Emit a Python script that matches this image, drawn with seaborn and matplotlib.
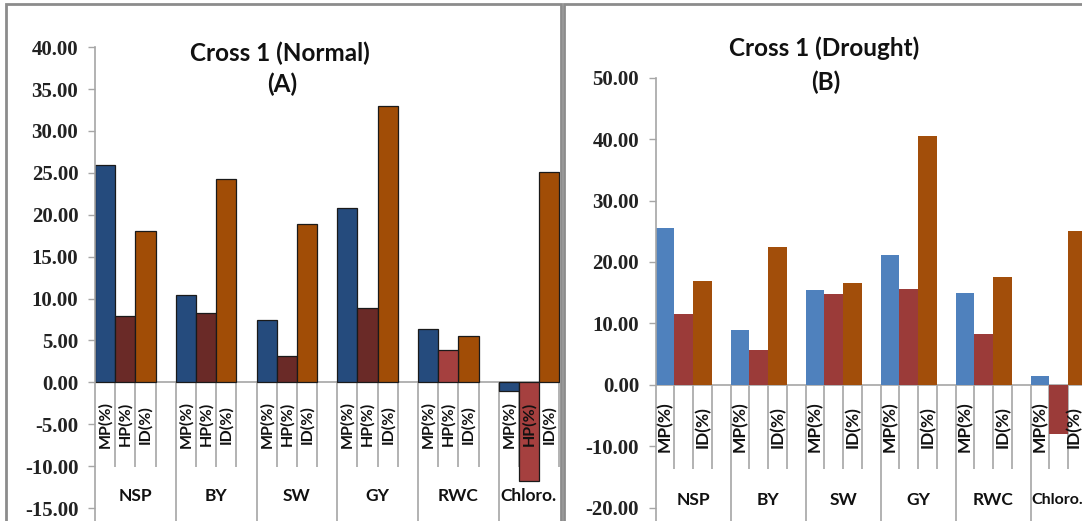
import numpy as np
import pandas as pd
import matplotlib
matplotlib.use("Agg")
import matplotlib.pyplot as plt
from matplotlib.patches import Rectangle
import seaborn as sns

# ---- data ----
traits = ['NSP', 'BY', 'SW', 'GY', 'RWC', 'Chloro.']
series = ['MP', 'HP', 'ID']

normal_mp = [25.9, 10.45, 7.43, 20.76, 6.38, -1.03]
normal_hp = [7.95, 8.27, 3.2, 8.9, 3.8, -11.8]
normal_id = [18.05, 24.3, 18.9, 32.95, 5.52, 25.15]

drought_mp = [25.5, 8.87, 15.4, 21.15, 14.95, 1.4]
drought_hp = [11.5, 5.7, 14.8, 15.55, 8.2, -8.1]
drought_id = [16.95, 22.4, 16.55, 40.5, 17.6, 25.1]

# HP bars of RWC and Chloro. are a lighter red in panel A
normal_hp_tone = ['dark', 'dark', 'dark', 'dark', 'light', 'light']

sub_labels_a = ['MP(%)', 'HP(%)', 'ID(%)']
sub_labels_b = ['MP(%)', '', 'ID(%)']


def long_table(mp, hp, id_, hp_tone=None):
    rows = []
    for i, t in enumerate(traits):
        for s, vals in zip(series, [mp, hp, id_]):
            key = s
            if s == 'HP' and hp_tone is not None and hp_tone[i] == 'light':
                key = 'HP light'
            rows.append({'slot': f'{t}|{s}', 'value': vals[i], 'key': key})
    return pd.DataFrame(rows)


# each trait gets 4 slots: MP, HP, ID and an empty one (Excel multi-level axis)
slot_order = [f'{t}|{s}' for t in traits for s in series + ['gap']]

df_a = long_table(normal_mp, normal_hp, normal_id, normal_hp_tone)
df_b = long_table(drought_mp, drought_hp, drought_id)

pal_a = {'MP': '#254B7D', 'HP': '#6A2A27', 'HP light': '#A5403F', 'ID': '#A14D06'}
pal_b = {'MP': '#4F81BD', 'HP': '#9B3B39', 'ID': '#A24E0A'}

sns.set_theme(style='white')
plt.rcParams['font.family'] = ['Lato', 'DejaVu Sans']

W, H = 1082, 521
fig = plt.figure(figsize=(W / 100, H / 100), dpi=100)
fig.patch.set_facecolor('white')


def px_axes(left, right, top, bottom):
    return fig.add_axes([left / W, (H - bottom) / H, (right - left) / W, (bottom - top) / H])


grey = '#A6A6A6'


def draw_panel(ax, df, pal, edge, ylim, xlim, ticks, sub_labels, sub_bottom, sub_y, grp_y,
               sub_fs, last_sub_shift=0.0, last_grp_fs=12.5):
    sns.barplot(data=df, x='slot', y='value', hue='key', order=slot_order,
                palette=pal, saturation=1, dodge=False, width=1.0, errorbar=None, legend=False,
                edgecolor=edge, linewidth=0.9 if edge != 'none' else 0, ax=ax, zorder=2)
    ax.set_ylim(*ylim)
    ax.set_xlim(*xlim)
    ax.set_yticks(ticks)
    ax.set_yticklabels([f'{t:.2f}' for t in ticks], fontfamily='Liberation Serif',
                       fontweight='bold', fontsize=15, color='#222222')
    ax.tick_params(axis='y', direction='out', length=5, width=1, color=grey, pad=7, left=True)
    ax.set_xticks([])
    ax.set_xlabel('')
    ax.set_ylabel('')
    for side in ['top', 'right', 'bottom']:
        ax.spines[side].set_visible(False)
    ax.spines['left'].set_color(grey)
    ax.spines['left'].set_linewidth(1.2)
    ax.axhline(0, color=grey, lw=1.2, zorder=1)
    ax.set_facecolor('white')

    n = len(traits)
    # group separators run to the bottom, sub-category lines stop higher
    ax.vlines([4 * k - 0.5 for k in range(1, n)], ylim[0], 0, color=grey, lw=1.2, zorder=1)
    sub_x = [4 * k + j + 0.5 for k in range(n) for j in range(3)]
    ax.vlines(sub_x, sub_bottom, 0, color=grey, lw=1.2, zorder=1)

    for k, t in enumerate(traits):
        for j, lab in enumerate(sub_labels):
            if lab:
                x = 4 * k + j
                if k == n - 1 and j == 2:
                    x -= last_sub_shift
                ax.text(x, sub_y, lab, rotation=90, ha='center', va='center',
                        fontsize=sub_fs, fontweight='bold', color='#111111', zorder=5)
        if k == n - 1:
            # last group is cut by the frame; Excel pushes its label to the left edge
            ax.text(4 * k - 0.5 + 0.06, grp_y, t, ha='left', va='center',
                    fontsize=last_grp_fs, fontweight='bold', color='#111111', zorder=5)
        else:
            ax.text(4 * k + 1.5, grp_y, t, ha='center', va='center',
                    fontsize=12.5, fontweight='bold', color='#111111', zorder=5)


ax_a = px_axes(95, 560, 47.1, 529)
draw_panel(ax_a, df_a, pal_a, '#1A1A1A', (-17.5, 40), (-0.5, 22.53),
           np.arange(-15, 40.1, 5), sub_labels_a, -10.1, -5.0, -13.6, 11.5)

ax_b = px_axes(655.7, 1082, 77.7, 530)
draw_panel(ax_b, df_b, pal_b, 'none', (-23.66, 50), (-0.5, 22.24),
           np.arange(-20, 50.1, 10), sub_labels_b, -13.7, -6.9, -18.8, 12.5,
           last_sub_shift=0.2, last_grp_fs=11.5)

# titles sit inside the plot area, as in Excel
fig.text(280 / W, 1 - 53 / H, 'Cross 1 (Normal)', ha='center', va='center',
         fontsize=17.5, fontweight='bold', color='#111111')
fig.text(282 / W, 1 - 84 / H, '(A)', ha='center', va='center',
         fontsize=17.5, fontweight='bold', color='#111111')
fig.text(824 / W, 1 - 48 / H, 'Cross 1 (Drought)', ha='center', va='center',
         fontsize=17.5, fontweight='bold', color='#111111')
fig.text(826 / W, 1 - 82 / H, '(B)', ha='center', va='center',
         fontsize=17.5, fontweight='bold', color='#111111')

# chart frames
for x0, x1 in [(6, 561), (564, 1090)]:
    fig.patches.append(Rectangle((x0 / W, -0.05), (x1 - x0) / W, (H - 4) / H + 0.05,
                                 transform=fig.transFigure, fill=False,
                                 edgecolor='#8C8C8C', lw=2, zorder=10))

fig.savefig('out.png', dpi=100)
